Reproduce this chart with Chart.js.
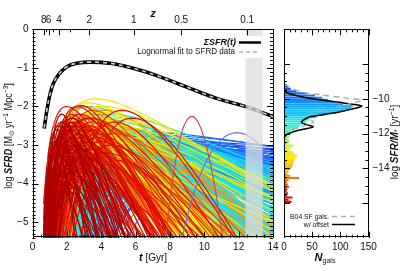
<!DOCTYPE html>
<html>
<head>
<meta charset="utf-8">
<script src="https://cdn.jsdelivr.net/npm/chart.js@4.4.1/dist/chart.umd.min.js"></script>
<style>
html, body { margin: 0; padding: 0; background: #fff; }
#wrap { position: relative; width: 401px; height: 271px; }
#wrap canvas { position: absolute; left: 0; top: 0; }
</style>
</head>
<body>
<div id="wrap">
  <canvas id="sfrd" width="401" height="271"></canvas>
  <canvas id="ssfr" width="401" height="271"></canvas>
</div>
<script>
/*
    Left: star formation histories (lognormal) of the galaxy sample and their sum.
    Right: distribution of specific SFR at z~0.1, colour coded the same way.
*/

// summed SFRD
const sfrdAge = [0.68, 0.84, 1.03, 1.22, 1.51, 2.0, 2.58, 3.35, 4.52, 5.87, 7.23, 8.59, 9.75, 10.72, 12.46, 14.0];
const sfrdLog = [-2.57, -2.09, -1.66, -1.40, -1.18, -0.97, -0.88, -0.85, -0.88, -1.01, -1.20, -1.43, -1.63, -1.79, -2.01, -2.26];
const fitLog  = [-2.55, -2.08, -1.66, -1.40, -1.18, -0.97, -0.88, -0.85, -0.88, -1.01, -1.20, -1.43, -1.63, -1.79, -2.01, -2.26];

// top axis: redshift labels and the cosmic age (Gyr) where they sit
const zLabels = ['8', '6', '4', '2', '1', '0.5', '0.1'];
const zAges = [0.65, 0.94, 1.55, 3.3, 5.9, 8.65, 12.5];
const ageTicks = [0, 2, 4, 6, 8, 10, 12, 14];
const sfrdTicks = [-5, -4, -3, -2, -1, 0];
const bandAges = [12.4, 13.4];

// individual histories: [peak age Gyr, log peak SFRD, curvature in (ln t)^2]
const redDeep = [
    [1.4, -2.6, 4.0], [1.6, -2.8, 3.5], [1.8, -2.4, 4.5], [2.0, -2.9, 3.0], [1.5, -3.2, 3.0],
    [2.2, -2.6, 3.8], [1.7, -2.2, 5.0], [2.4, -3.0, 3.2], [1.9, -3.4, 2.8], [2.6, -2.7, 4.0],
    [1.3, -3.0, 5.0], [2.1, -3.6, 2.5], [2.8, -3.1, 3.5], [1.6, -3.8, 2.2], [2.3, -2.3, 4.2],
    [3.0, -3.3, 3.0], [2.0, -4.0, 2.0], [1.8, -2.7, 3.2], [2.5, -2.5, 5.0], [3.2, -2.9, 4.5],
    [1.5, -2.5, 5.5], [1.8, -3.0, 4.5], [2.0, -2.6, 5.2], [1.6, -3.3, 4.0], [2.2, -3.1, 4.4],
    [1.4, -3.5, 3.6], [1.9, -3.7, 3.2], [2.4, -3.4, 4.2], [1.7, -4.0, 2.8], [2.6, -3.0, 5.5],
    [2.1, -4.2, 2.6], [1.3, -2.9, 6.0], [2.9, -3.6, 4.8], [2.3, -2.8, 6.0],
    [1.5, -2.9, 4.6], [1.7, -3.5, 3.8], [2.0, -3.3, 4.8], [2.2, -2.4, 6.2], [1.4, -3.9, 2.6],
    [2.7, -3.3, 5.8], [1.9, -2.5, 5.8], [2.5, -3.8, 3.6]
];
const red = [
    [2.0, -2.0, 2.0], [2.3, -2.3, 2.4], [2.6, -2.5, 2.2], [1.9, -2.6, 2.6], [2.8, -2.2, 2.8],
    [3.2, -2.6, 2.5], [2.4, -2.8, 2.0], [3.5, -2.4, 3.0], [2.1, -3.0, 2.2], [2.9, -2.9, 2.3],
    [3.8, -2.7, 3.2], [2.5, -3.3, 1.8], [3.3, -3.1, 2.6], [4.0, -2.9, 3.6], [2.7, -2.4, 3.4],
    [2.8, -1.97, 3.0], [3.6, -3.4, 2.0], [4.3, -3.2, 3.0], [2.2, -3.5, 2.0], [4.6, -3.0, 4.0],
    [3.1, -3.7, 1.8], [5.0, -3.4, 3.5], [2.6, -2.0, 2.6], [3.4, -2.3, 2.2], [1.7, -2.4, 3.0],
    [5.2, -2.1, 5.0], [5.8, -2.3, 6.0], [4.8, -2.4, 4.5],
    [2.5, -2.6, 3.0], [2.8, -2.8, 3.2], [2.2, -2.5, 3.6], [3.0, -3.0, 3.4], [2.4, -3.1, 2.8],
    [3.3, -2.5, 4.0], [2.6, -3.3, 2.6], [2.0, -2.8, 3.8], [3.5, -3.1, 3.8], [2.9, -3.5, 2.4],
    [2.3, -2.2, 4.0], [3.7, -2.8, 4.4], [2.7, -3.7, 2.2], [1.9, -3.1, 3.4], [3.1, -2.3, 3.6],
    [2.1, -3.8, 2.4], [3.4, -3.6, 3.0], [2.5, -4.1, 2.0],
    [2.7, -2.7, 4.2], [3.2, -3.3, 3.6], [2.4, -2.4, 4.6], [3.9, -3.2, 4.2], [2.1, -2.7, 4.4],
    [3.6, -2.6, 5.0], [2.8, -3.9, 2.6], [4.2, -3.5, 3.4]
];
const redOrange = [
    [2.4, -2.4, 2.0], [2.9, -2.6, 1.8], [3.3, -2.3, 2.2], [2.2, -2.8, 2.4], [3.7, -2.8, 2.0],
    [2.7, -3.1, 1.6], [4.1, -2.5, 2.6], [3.0, -3.4, 1.5], [3.5, -2.1, 2.8], [4.4, -3.0, 2.4],
    [2.6, -2.2, 3.0], [3.9, -3.3, 1.7], [4.8, -2.7, 3.0], [2.0, -3.2, 2.2],
    [3.4, -2.6, 4.2], [3.7, -2.8, 4.6], [3.1, -2.7, 4.0], [4.0, -2.9, 5.0], [2.9, -2.5, 3.8],
    [3.5, -3.1, 3.6], [3.9, -2.4, 5.4], [3.2, -3.3, 3.2], [4.2, -3.2, 5.2], [2.7, -3.0, 3.4]
];
const orange = [
    [2.8, -2.3, 1.6], [3.2, -2.5, 1.5], [3.6, -2.2, 1.8], [2.5, -2.7, 1.7], [4.0, -2.6, 1.6],
    [3.4, -2.9, 1.3], [4.5, -2.4, 2.2], [2.9, -3.1, 1.4], [3.8, -3.2, 1.5], [5.0, -2.8, 2.0],
    [3.1, -2.0, 2.0], [4.2, -2.1, 2.4], [2.3, -2.5, 2.0], [5.4, -3.0, 2.6],
    [3.5, -2.4, 3.5], [3.2, -2.6, 3.3], [3.8, -2.7, 3.8], [3.0, -2.3, 3.6], [3.6, -2.9, 3.2],
    [4.0, -3.0, 4.0], [2.8, -2.8, 3.0], [3.3, -3.2, 2.8], [4.3, -2.6, 4.6], [2.6, -2.5, 3.4],
    [3.9, -3.4, 3.0], [3.1, -2.0, 3.8]
];
const orangeLow = [
    [3.5, -3.2, 3.0], [3.2, -3.0, 3.2], [3.8, -3.4, 2.8], [4.0, -3.0, 4.0], [3.0, -3.3, 2.6],
    [4.3, -3.5, 3.6], [3.6, -2.8, 3.8], [3.3, -3.6, 2.2], [4.5, -3.2, 5.0], [2.9, -2.9, 3.4]
];
const gold = [
    [3.4, -2.2, 1.7], [2.9, -2.5, 1.6], [4.1, -2.4, 1.9], [3.6, -2.8, 1.4],
    [4.8, -2.6, 2.2], [2.5, -2.9, 1.8], [3.1, -3.0, 1.4], [4.4, -3.1, 1.6],
    [3.9, -2.6, 3.8], [4.2, -2.8, 4.0], [3.6, -2.7, 3.5], [4.5, -3.0, 4.4], [3.3, -2.6, 3.2],
    [4.0, -3.2, 3.4], [3.7, -3.4, 2.8], [4.7, -2.7, 5.0], [3.4, -2.3, 3.8], [4.3, -2.4, 4.6]
];
const yellow = [
    [3.7, -1.8, 1.3], [3.2, -1.9, 1.4], [4.2, -2.0, 1.5], [2.8, -2.2, 1.5], [3.5, -2.4, 1.2],
    [4.6, -2.3, 1.4], [3.0, -2.6, 1.1], [3.9, -2.7, 1.0], [5.0, -2.5, 1.6], [2.6, -2.8, 1.3],
    [4.4, -2.9, 1.1], [3.3, -3.1, 0.9], [5.5, -2.8, 1.8], [4.0, -2.15, 1.2],
    [3.8, -2.3, 3.0], [3.5, -2.5, 2.9], [4.2, -2.6, 3.4], [3.2, -2.4, 2.8], [4.0, -2.9, 3.0],
    [3.6, -3.0, 2.6], [4.5, -2.8, 3.8], [3.0, -2.7, 2.6], [3.4, -3.3, 2.2], [4.8, -3.1, 4.0],
    [2.9, -2.2, 3.0], [3.9, -2.0, 3.5]
];
const yellowLow = [
    [4.0, -3.1, 2.6], [3.6, -3.0, 2.4], [4.4, -3.3, 2.8], [3.8, -3.5, 2.0], [4.8, -3.4, 3.4],
    [3.4, -2.8, 2.8], [4.2, -3.7, 2.0], [5.0, -3.0, 4.4], [3.9, -2.9, 3.2], [4.6, -3.6, 2.5],
    [3.2, -3.2, 2.2], [5.2, -3.5, 4.0]
];
const lime = [
    [3.4, -2.3, 1.1], [4.0, -2.5, 1.0], [4.6, -2.6, 1.1], [3.0, -2.7, 1.0], [3.7, -2.9, 0.9],
    [5.1, -2.7, 1.3], [4.3, -3.1, 0.9], [3.2, -3.2, 0.8], [5.6, -3.0, 1.4], [2.8, -2.5, 1.2],
    [4.0, -2.5, 3.0], [4.3, -2.8, 3.0], [3.7, -2.6, 2.8], [4.6, -3.0, 3.4], [3.5, -2.9, 2.5],
    [4.1, -3.2, 2.6], [5.0, -2.9, 3.8], [3.3, -2.7, 2.6], [4.4, -3.4, 2.4], [3.9, -2.3, 3.2],
    [4.4, -2.7, 3.2], [4.8, -2.8, 3.4], [4.1, -2.9, 2.8], [5.2, -3.0, 3.8], [3.8, -2.8, 2.6],
    [4.6, -3.2, 2.7]
];
const green = [
    [3.6, -2.4, 0.9], [4.2, -2.6, 0.9], [4.8, -2.8, 1.0], [3.3, -2.8, 0.8], [5.3, -2.9, 1.2],
    [4.0, -3.1, 0.8], [5.8, -3.1, 1.4], [3.8, -2.2, 1.0], [4.5, -3.3, 0.8], [6.0, -2.7, 1.6],
    [4.5, -2.7, 2.0], [4.0, -2.6, 2.3],
    [4.5, -2.7, 2.6], [4.2, -2.6, 2.4], [5.0, -2.9, 2.8], [3.9, -2.8, 2.2], [4.7, -3.1, 2.3],
    [5.4, -3.0, 3.2], [3.6, -2.9, 2.0], [4.4, -3.3, 2.0], [5.2, -3.4, 2.5], [4.0, -3.5, 1.8],
    [3.4, -3.2, 1.8], [5.8, -3.2, 3.6], [4.9, -2.6, 3.0], [3.8, -2.5, 2.6],
    [5.5, -3.2, 4.2], [4.0, -3.4, 2.2], [4.9, -3.5, 2.8], [3.6, -3.1, 2.3], [5.0, -2.6, 3.8],
    [4.3, -2.5, 3.5]
];
const greenLow = [
    [4.5, -3.0, 2.4], [5.0, -3.2, 2.6], [4.2, -2.9, 2.8], [5.5, -3.4, 3.0], [4.8, -3.6, 2.0],
    [4.0, -3.2, 2.2], [5.2, -2.8, 3.6], [6.0, -3.6, 3.4], [4.4, -3.4, 2.0], [5.6, -3.1, 3.8],
    [3.8, -3.0, 2.4], [4.7, -3.8, 1.7], [5.3, -3.9, 2.2], [6.2, -3.3, 4.2], [4.1, -3.6, 1.9],
    [5.9, -4.0, 2.8], [4.9, -2.7, 3.4], [3.6, -3.3, 2.0]
];
const cyan = [
    [3.2, -2.0, 1.0], [3.8, -2.3, 0.8], [4.4, -2.5, 0.9], [5.0, -2.7, 1.0], [3.5, -2.7, 0.7],
    [5.5, -2.8, 1.2], [4.1, -2.9, 0.7], [6.0, -3.0, 1.3], [4.7, -3.1, 0.8], [5.2, -3.3, 0.9],
    [6.5, -3.2, 1.5], [3.9, -3.4, 0.6], [5.8, -2.6, 1.6], [4.5, -2.2, 1.1], [5.0, -2.9, 2.2],
    [6.0, -3.1, 2.2], [4.5, -3.0, 1.9],
    [5.0, -2.8, 1.9], [5.5, -2.9, 2.0], [4.6, -2.7, 1.8], [6.0, -3.0, 2.3], [5.2, -3.1, 1.6],
    [4.3, -2.9, 1.5], [6.5, -3.2, 2.6], [5.8, -3.3, 1.8], [4.8, -3.3, 1.4], [7.0, -3.4, 2.8],
    [5.4, -3.5, 1.5], [4.0, -3.1, 1.3], [6.2, -3.6, 2.0], [4.5, -3.6, 1.2], [5.0, -2.5, 2.2],
    [6.8, -2.9, 3.0], [3.8, -2.8, 1.6], [5.6, -3.8, 1.6],
    [4.8, -2.8, 2.4], [5.2, -2.9, 2.6], [5.6, -3.0, 2.8], [6.0, -3.2, 2.7], [4.4, -2.9, 2.1],
    [5.0, -3.2, 2.2], [6.4, -3.3, 3.2], [4.6, -3.1, 1.9], [5.4, -3.4, 2.1], [5.8, -2.7, 3.4],
    [4.2, -3.0, 1.8], [6.8, -3.2, 3.8], [5.1, -3.6, 1.8], [4.9, -2.6, 2.8], [6.2, -3.5, 2.5],
    [5.3, -2.8, 3.0], [4.0, -3.3, 1.6], [5.7, -3.7, 2.0], [7.2, -3.5, 4.0], [4.5, -3.5, 1.5]
];
const cyanLow = [
    [5.0, -3.0, 2.0], [5.5, -3.1, 1.9], [4.5, -3.0, 1.7], [6.0, -3.3, 2.2], [5.2, -3.2, 2.4],
    [4.8, -3.4, 1.8], [5.8, -3.5, 2.0], [6.5, -3.6, 2.6], [4.2, -3.3, 1.5], [5.4, -3.7, 1.6],
    [7.0, -3.8, 3.0], [4.6, -2.9, 2.4], [5.6, -3.9, 1.5], [6.2, -3.0, 3.0], [5.0, -3.6, 2.2],
    [6.8, -3.4, 3.6], [4.4, -3.6, 1.4], [7.5, -4.0, 3.2], [5.3, -3.3, 2.8], [6.0, -3.7, 2.4],
    [4.9, -3.1, 2.6], [6.6, -3.9, 2.8], [5.7, -2.9, 3.2], [4.3, -3.4, 1.9], [7.2, -3.2, 4.2],
    [5.1, -3.8, 1.9], [6.3, -4.1, 2.0], [4.7, -3.7, 1.6], [8.0, -3.9, 4.5], [5.9, -3.3, 2.6]
];
const sky = [
    [4.5, -2.6, 0.8], [5.0, -2.8, 0.7], [5.5, -2.7, 0.9], [6.0, -2.9, 0.8], [4.8, -3.0, 0.6],
    [6.5, -3.0, 1.0], [5.3, -3.2, 0.7], [7.0, -3.1, 1.1], [5.8, -3.3, 0.8], [6.3, -3.5, 0.9],
    [7.5, -3.3, 1.3], [4.2, -2.9, 0.7], [6.8, -2.8, 1.2], [5.1, -3.5, 0.6], [7.2, -3.6, 1.2],
    [8.0, -3.4, 1.6],
    [5.5, -2.8, 1.4], [6.0, -2.9, 1.5], [5.0, -2.7, 1.3], [6.5, -3.0, 1.6], [4.8, -3.0, 1.0],
    [7.0, -3.1, 1.8], [5.8, -3.2, 1.2], [6.2, -2.75, 1.7], [5.3, -3.3, 1.0], [7.5, -3.2, 2.0],
    [4.5, -2.9, 1.1], [6.8, -3.4, 1.5], [5.6, -3.5, 1.1], [8.0, -3.3, 2.4], [6.0, -3.6, 1.3],
    [7.2, -2.9, 2.2], [5.0, -3.1, 0.9], [6.6, -3.1, 1.9], [8.5, -3.5, 2.5], [4.2, -2.8, 0.9],
    [6.5, -3.0, 2.0], [7.0, -3.2, 2.2], [6.0, -3.1, 1.8], [7.5, -3.3, 2.6], [5.5, -3.2, 1.5],
    [8.0, -3.5, 2.8], [6.8, -3.6, 2.0], [7.8, -3.0, 3.0], [6.2, -3.4, 1.7], [8.5, -3.2, 3.4],
    [5.8, -3.6, 1.4], [9.0, -3.6, 3.2]
];
const skyLow = [
    [6.5, -3.2, 1.4], [7.0, -3.4, 1.3], [7.5, -3.5, 1.6], [6.0, -3.3, 1.2], [8.0, -3.6, 1.8],
    [8.5, -3.7, 2.2], [6.8, -3.6, 1.2], [5.5, -3.1, 1.2], [9.0, -3.8, 2.6], [7.2, -3.1, 1.8],
    [6.2, -3.5, 1.0], [7.8, -3.3, 2.2], [9.5, -3.6, 3.0], [5.8, -3.4, 1.0], [8.2, -3.9, 1.8],
    [10.0, -3.9, 3.2], [7.0, -3.8, 1.1], [6.4, -3.0, 1.8], [8.8, -3.4, 2.8], [6.6, -3.7, 1.4],
    [7.6, -4.0, 1.6], [5.2, -3.3, 1.1], [9.2, -3.5, 3.4], [6.9, -3.2, 2.0]
];
const blue = [
    [5.5, -2.7, 0.5], [6.2, -2.8, 0.5], [7.0, -2.9, 0.6], [6.5, -3.0, 0.4], [7.8, -3.0, 0.7],
    [5.8, -3.1, 0.45], [8.5, -3.1, 0.8], [7.2, -3.2, 0.5], [6.0, -3.3, 0.4], [9.0, -3.2, 1.0],
    [8.0, -3.4, 0.6], [6.8, -3.5, 0.5], [9.5, -3.5, 1.0], [7.5, -3.7, 0.6], [10.0, -3.7, 1.2],
    [8.8, -3.9, 0.9], [6.2, -2.65, 0.6], [7.4, -2.75, 0.7],
    [7.0, -3.3, 2.5], [8.0, -3.2, 3.0], [6.5, -3.5, 2.2], [9.0, -3.4, 3.0],
    [6.0, -2.8, 0.7], [6.5, -2.9, 0.8], [7.0, -3.0, 0.9], [7.5, -2.85, 1.0], [8.0, -3.1, 1.1],
    [5.5, -2.9, 0.6], [6.8, -3.2, 0.8], [7.8, -3.3, 1.2], [8.5, -3.0, 1.3], [9.0, -3.3, 1.5],
    [6.2, -3.4, 0.6], [7.2, -3.5, 0.9], [9.5, -3.1, 1.8], [10.0, -3.3, 2.0], [8.2, -3.6, 1.0],
    [5.8, -3.0, 0.55], [11.0, -3.4, 2.5], [6.6, -3.6, 0.7], [9.2, -3.8, 1.4], [7.6, -3.9, 0.9],
    [7.0, -3.0, 1.3], [7.5, -3.1, 1.4], [8.0, -3.2, 1.5], [8.5, -3.3, 1.7], [9.0, -3.1, 2.0],
    [6.5, -3.2, 1.1], [9.5, -3.4, 2.2], [10.0, -3.2, 2.8], [7.2, -3.4, 1.2], [8.2, -3.5, 1.5],
    [10.5, -3.5, 3.0], [6.8, -2.9, 1.2]
];
const blueLow = [
    [8.0, -3.3, 1.0], [9.0, -3.4, 1.2], [7.0, -3.3, 0.8], [10.0, -3.5, 1.6], [8.5, -3.6, 1.1],
    [7.5, -3.6, 0.8], [11.0, -3.7, 2.2], [9.5, -3.8, 1.4], [6.5, -3.4, 0.7], [8.0, -3.9, 0.9],
    [12.0, -3.6, 3.0], [7.2, -3.8, 0.7], [10.5, -4.0, 1.8], [9.0, -3.1, 1.6], [8.6, -3.0, 1.4],
    [11.5, -3.3, 2.6]
];
const blueDeep = [
    [8.0, -2.9, 0.4], [9.0, -3.0, 0.5], [10.0, -3.1, 0.6], [7.5, -3.2, 0.35], [11.0, -3.3, 0.7],
    [9.5, -3.4, 0.5], [12.0, -3.5, 0.8], [8.5, -3.6, 0.45], [10.5, -3.8, 0.7],
    [7.5, -3.6, 2.0], [6.0, -3.8, 2.5], [8.5, -3.7, 2.6], [10.0, -3.5, 3.5]
];
const lateBurst = [[11.9, -2.68, 28]];
const shortBurst = [[9.27, -2.25, 100]];

// sSFR histogram (bins of 0.125 dex going down from -9.125)
const binTop = -9.125;
const binWidth = 0.125;
const ssfrCounts = [
    4, 8, 12, 22, 40, 55, 68, 78, 88, 105, 122, 118, 108, 92, 72, 58, 45, 40, 34, 28,
    24, 19, 14, 11, 9, 7, 10, 8, 17, 12, 9, 15, 19, 23, 20, 18, 17, 16, 14, 11,
    8, 6, 11, 27, 8, 5, 7, 9, 6, 5, 7, 6, 15, 8, 13
];
// model distribution with offset (black) and B04 star-forming galaxies (grey dashed)
const offsetCounts = [0.3, 0.3, 1.5, 4.7, 16.6, 40, 70, 105, 138, 117, 94, 70, 46, 34, 31, 40, 52, 37, 19.6, 4.7, 0.3, 0.3];
const offsetSsfr = [-8.0, -9.3, -9.5, -9.65, -9.77, -9.94, -10.09, -10.24, -10.41, -10.62, -10.79, -10.91, -11.04, -11.23, -11.36, -11.49, -11.61, -11.74, -11.87, -12.06, -12.3, -16.0];
const b04Counts = [2, 28, 64, 111, 138, 111, 82, 52, 43, 46, 52, 37, 16.5, 4.7, 1];
const b04Ssfr = [-9.2, -9.58, -9.77, -9.96, -10.09, -10.34, -10.6, -10.79, -10.98, -11.17, -11.36, -11.55, -11.74, -11.9, -12.0];
const ssfrTicks = [-14, -12, -10];
const countTicks = [0, 50, 100, 150];

const FONT = '"Liberation Sans", Arial, sans-serif';
Chart.defaults.font.family = FONT;
Chart.defaults.font.size = 10;
Chart.defaults.color = '#111';

// colour table used for both panels (keyed on log sSFR)
const cmapStops = [
    [-9.2, [20, 70, 240]], [-10.0, [25, 130, 250]], [-10.6, [20, 180, 245]], [-11.2, [40, 225, 240]],
    [-11.8, [90, 240, 190]], [-12.3, [150, 240, 110]], [-12.8, [205, 240, 50]], [-13.3, [250, 230, 0]],
    [-13.8, [250, 195, 0]], [-14.3, [250, 150, 0]], [-14.8, [245, 90, 0]], [-15.3, [235, 40, 0]],
    [-15.9, [215, 0, 0]]
];
function cmap(v) {
    if (v >= cmapStops[0][0]) return 'rgb(' + cmapStops[0][1].join(',') + ')';
    for (let i = 1; i < cmapStops.length; i++) {
        const a = cmapStops[i - 1], b = cmapStops[i];
        if (v >= b[0]) {
            const f = (a[0] - v) / (a[0] - b[0]);
            const c = a[1].map((x, k) => Math.round(x + (b[1][k] - x) * f));
            return 'rgb(' + c.join(',') + ')';
        }
    }
    return 'rgb(' + cmapStops[cmapStops.length - 1][1].join(',') + ')';
}

// first in list is drawn on top
const families = [
    [shortBurst, 'rgb(215,70,70)'],
    [lateBurst, 'rgb(100,110,230)'],
    [redDeep, 'rgb(175,0,0)'],
    [red, 'rgb(225,15,0)'],
    [redOrange, 'rgb(242,75,0)'],
    [yellow, 'rgb(245,232,0)'],
    [orange, 'rgb(250,145,0)'],
    [cyan, 'rgb(30,220,240)'],
    [gold, 'rgb(250,195,0)'],
    [lime, 'rgb(185,240,60)'],
    [green, 'rgb(90,238,150)'],
    [orangeLow, 'rgb(250,130,0)'],
    [yellowLow, 'rgb(240,225,20)'],
    [greenLow, 'rgb(120,240,130)'],
    [cyanLow, 'rgb(60,225,235)'],
    [sky, 'rgb(20,165,245)'],
    [skyLow, 'rgb(30,185,240)'],
    [blue, 'rgb(25,105,245)'],
    [blueLow, 'rgb(30,120,240)'],
    [blueDeep, 'rgb(35,65,230)']
];

let ageGrid = [];
for (let i = 0; i <= 87; i++) {
    ageGrid.push(i < 27 ? 0.65 + 0.05 * i : 2.0 + 0.2 * (i - 27));
}
ageGrid = ageGrid.filter(t => t <= 14.001);

// one lognormal history, clipped a little below the plot floor
function lognormalTrack(c) {
    return ageGrid.map(t => {
        let y = c[1] - c[2] * Math.pow(Math.log(t / c[0]), 2);
        return { x: t, y: Math.max(y, -6) };
    });
}

function buildSfrdDatasets() {
    let sets = [
        {
            data: sfrdAge.map((t, i) => ({ x: t, y: fitLog[i] })),
            borderColor: '#cfcfcf', borderWidth: 1.6, borderDash: [4, 4], tension: 0.4
        },
        {
            data: sfrdAge.map((t, i) => ({ x: t, y: sfrdLog[i] })),
            borderColor: '#000', borderWidth: 3.6, tension: 0.4
        }
    ];
    for (const [list, color] of families) {
        for (const c of list) {
            sets.push({ data: lognormalTrack(c), borderColor: color, borderWidth: 1.15 });
        }
    }
    return sets;
}

function minus(v) {
    return v < 0 ? '\u2212' + Math.abs(v) : String(v);
}

function range(a, b, step) {
    let out = [];
    for (let v = a; v <= b + 1e-9; v += step) out.push(+v.toFixed(3));
    return out;
}

// inward IDL style ticks on all four sides
function tickSet(ctx, area, scale, values, len, edge) {
    ctx.beginPath();
    for (const v of values) {
        const p = Math.round(scale.getPixelForValue(v)) + 0.5;
        if (edge === 'bottom') { ctx.moveTo(p, area.bottom); ctx.lineTo(p, area.bottom - len); }
        if (edge === 'top') { ctx.moveTo(p, area.top); ctx.lineTo(p, area.top + len); }
        if (edge === 'left') { ctx.moveTo(area.left, p); ctx.lineTo(area.left + len, p); }
        if (edge === 'right') { ctx.moveTo(area.right, p); ctx.lineTo(area.right - len, p); }
    }
    ctx.stroke();
}

const framePlugin = {
    id: 'frame',
    afterDraw(chart, args, opts) {
        const ctx = chart.ctx, a = chart.chartArea;
        ctx.save();
        ctx.strokeStyle = '#000';
        ctx.lineWidth = 1;
        ctx.strokeRect(Math.round(a.left) + 0.5, Math.round(a.top) + 0.5,
            Math.round(a.right - a.left) - 1, Math.round(a.bottom - a.top) - 1);
        for (const t of opts.ticks) {
            tickSet(ctx, a, chart.scales[t.scale], t.values, t.len, t.edge);
        }
        ctx.restore();
    }
};

// mixed-font text; sx squeezes it horizontally like the narrow IDL font
function drawRuns(ctx, runs, x, y, align, sx) {
    sx = sx || 1;
    let w = 0;
    for (const r of runs) { ctx.font = r.font; w += ctx.measureText(r.text).width; }
    let cx = align === 'center' ? -w / 2 : (align === 'right' ? -w : 0);
    ctx.save();
    ctx.translate(x, y);
    ctx.scale(sx, 1);
    for (const r of runs) {
        ctx.font = r.font;
        ctx.fillText(r.text, cx, r.dy || 0);
        cx += ctx.measureText(r.text).width;
    }
    ctx.restore();
}

const f10 = '10px ' + FONT, f7 = '7px ' + FONT, fbi = 'italic bold 10px ' + FONT;

const sfrdDecor = {
    id: 'sfrdDecor',
    afterDatasetsDraw(chart) {
        const ctx = chart.ctx, a = chart.chartArea, x = chart.scales.x;
        const x0 = x.getPixelForValue(bandAges[0]), x1 = x.getPixelForValue(bandAges[1]);
        ctx.save();
        ctx.fillStyle = 'rgba(222,222,222,0.75)';
        ctx.fillRect(x0, a.top, x1 - x0, a.bottom - a.top);
        ctx.fillStyle = '#fff';
        ctx.fillRect(x0, 36, x1 - x0, 22);
        ctx.restore();
    },
    afterDraw(chart) {
        const ctx = chart.ctx;
        ctx.save();
        ctx.fillStyle = '#111';
        ctx.textBaseline = 'middle';
        // legend
        drawRuns(ctx, [{ text: '\u03A3SFR(t)', font: 'italic bold 9px ' + FONT }], 236, 42.5, 'right');
        drawRuns(ctx, [{ text: 'Lognormal fit to SFRD data', font: '8.5px ' + FONT }], 235, 52, 'right', 0.95);
        ctx.strokeStyle = '#000';
        ctx.lineWidth = 2.5;
        ctx.beginPath(); ctx.moveTo(239, 42.5); ctx.lineTo(261, 42.5); ctx.stroke();
        ctx.strokeStyle = '#b0b0b0';
        ctx.lineWidth = 1.5;
        ctx.setLineDash([4, 3]);
        ctx.beginPath(); ctx.moveTo(239, 52); ctx.lineTo(260, 52); ctx.stroke();
        ctx.setLineDash([]);
        // axis titles
        drawRuns(ctx, [{ text: 'z', font: 'italic bold 11px ' + FONT }], 153, 13.5, 'center');
        drawRuns(ctx, [{ text: 't', font: 'italic bold 11px ' + FONT }, { text: ' [Gyr]', font: f10 }], 153, 258, 'center');
        ctx.translate(9.5, 136);
        ctx.rotate(-Math.PI / 2);
        drawRuns(ctx, [
            { text: 'log ', font: f10 }, { text: 'SFRD', font: fbi }, { text: ' [M', font: f10 },
            { text: '\u2299', font: f7, dy: 2.5 }, { text: ' yr', font: f10 }, { text: '\u22121', font: f7, dy: -3 },
            { text: ' Mpc', font: f10 }, { text: '\u22123', font: f7, dy: -3 }, { text: ']', font: f10 }
        ], 0, 0, 'center', 0.92);
        ctx.restore();
    }
};

const ssfrDecor = {
    id: 'ssfrDecor',
    afterDraw(chart) {
        const ctx = chart.ctx;
        ctx.save();
        ctx.fillStyle = '#111';
        ctx.textBaseline = 'middle';
        drawRuns(ctx, [{ text: 'B04 SF gals.', font: '8px ' + FONT }], 329, 216.5, 'right', 0.85);
        drawRuns(ctx, [{ text: 'w/ offset', font: '8px ' + FONT }], 329, 224.5, 'right', 0.85);
        ctx.strokeStyle = '#aaa';
        ctx.lineWidth = 1.3;
        ctx.setLineDash([5, 4]);
        ctx.beginPath(); ctx.moveTo(332, 216.5); ctx.lineTo(355, 216.5); ctx.stroke();
        ctx.setLineDash([]);
        ctx.strokeStyle = '#000';
        ctx.lineWidth = 1.5;
        ctx.beginPath(); ctx.moveTo(332, 224.5); ctx.lineTo(355, 224.5); ctx.stroke();
        drawRuns(ctx, [{ text: 'N', font: 'italic bold 11px ' + FONT }, { text: 'gals', font: f7, dy: 3 }], 325, 258, 'center');
        ctx.translate(395, 142);
        ctx.rotate(-Math.PI / 2);
        drawRuns(ctx, [
            { text: 'log ', font: f10 }, { text: 'SFR/M', font: fbi }, { text: '*', font: f7, dy: 2.5 },
            { text: ' [yr', font: f10 }, { text: '\u22121', font: f7, dy: -3 }, { text: ']', font: f10 }
        ], 0, 0, 'center');
        ctx.restore();
    }
};

function plainAxis(extra) {
    return Object.assign({
        type: 'linear',
        grid: { display: false, drawTicks: false, tickLength: 0 },
        border: { display: false },
        ticks: { padding: 4, maxRotation: 0, autoSkip: false, color: '#111', font: { size: 10 }, callback: minus }
    }, extra);
}

// software-backed context: the picture is rasterised at once, not deferred
function context2d(id) {
    return document.getElementById(id).getContext('2d', { willReadFrequently: true });
}

class SfrdPanel {
    update() {
        const ctx = context2d('sfrd');
        window.sfrdChart = new Chart(ctx, {
            type: 'line',
            data: { datasets: buildSfrdDatasets() },
            options: {
                responsive: false,
                animation: false,
                events: [],
                layout: { padding: { left: 0, right: 128, top: 0, bottom: 0 } },
                elements: { point: { radius: 0 }, line: { tension: 0 } },
                plugins: {
                    legend: { display: false },
                    tooltip: { enabled: false },
                    frame: {
                        ticks: [
                            { scale: 'x', values: ageTicks, len: 6, edge: 'bottom' },
                            { scale: 'x', values: range(0, 14, 0.5), len: 3, edge: 'bottom' },
                            { scale: 'x', values: zAges, len: 6, edge: 'top' },
                            { scale: 'x', values: [0.77, 1.19, 2.16], len: 3, edge: 'top' },
                            { scale: 'y', values: sfrdTicks, len: 6, edge: 'left' },
                            { scale: 'y', values: range(-5.4, 0, 0.1), len: 3, edge: 'left' },
                            { scale: 'y', values: sfrdTicks, len: 6, edge: 'right' },
                            { scale: 'y', values: range(-5.4, 0, 0.1), len: 3, edge: 'right' }
                        ]
                    }
                },
                scales: {
                    x: plainAxis({
                        min: 0, max: 14, position: 'bottom',
                        afterBuildTicks: s => { s.ticks = ageTicks.map(v => ({ value: v })); },
                        afterFit: s => { s.height = 33.3; }
                    }),
                    xTop: plainAxis({
                        axis: 'x', min: 0, max: 14, position: 'top',
                        ticks: { padding: 3, maxRotation: 0, autoSkip: false, color: '#111', font: { size: 10 },
                            callback: (v, i) => zLabels[i] },
                        afterBuildTicks: s => { s.ticks = zAges.map(v => ({ value: v })); },
                        afterFit: s => { s.height = 29.3; }
                    }),
                    y: plainAxis({
                        min: -5.4, max: 0, position: 'left',
                        afterBuildTicks: s => { s.ticks = sfrdTicks.map(v => ({ value: v })); },
                        afterFit: s => { s.width = 32.5; }
                    })
                }
            },
            plugins: [framePlugin, sfrdDecor]
        });
        ctx.getImageData(0, 0, 1, 1);
    }
}

class SsfrPanel {
    update() {
        const bins = ssfrCounts.map((n, i) => ({ x: n, y: binTop - binWidth * (i + 0.5) }));
        const ctx = context2d('ssfr');
        window.ssfrChart = new Chart(ctx, {
            type: 'bar',
            data: {
                datasets: [
                    {
                        type: 'line',
                        data: b04Counts.map((n, i) => ({ x: n, y: b04Ssfr[i] })),
                        borderColor: '#aaa', borderWidth: 1.4, borderDash: [6, 4],
                        pointRadius: 0, tension: 0.3
                    },
                    {
                        type: 'line',
                        data: offsetCounts.map((n, i) => ({ x: n, y: offsetSsfr[i] })),
                        borderColor: '#000', borderWidth: 1.5, pointRadius: 0, tension: 0.3
                    },
                    {
                        data: bins,
                        backgroundColor: bins.map(b => cmap(b.y)),
                        borderWidth: 0, barPercentage: 0.95, categoryPercentage: 1
                    }
                ]
            },
            options: {
                indexAxis: 'y',
                responsive: false,
                animation: false,
                events: [],
                layout: { padding: { left: 284, right: 0, top: 29.3, bottom: 0 } },
                plugins: {
                    legend: { display: false },
                    tooltip: { enabled: false },
                    frame: {
                        ticks: [
                            { scale: 'x', values: countTicks, len: 6, edge: 'bottom' },
                            { scale: 'x', values: range(0, 150, 10), len: 3, edge: 'bottom' },
                            { scale: 'x', values: countTicks, len: 6, edge: 'top' },
                            { scale: 'x', values: range(0, 150, 10), len: 3, edge: 'top' },
                            { scale: 'y', values: range(-16, -8, 2), len: 6, edge: 'right' },
                            { scale: 'y', values: range(-16, -8, 0.5), len: 3, edge: 'right' },
                            { scale: 'y', values: range(-16, -8, 2), len: 6, edge: 'left' },
                            { scale: 'y', values: range(-16, -8, 0.5), len: 3, edge: 'left' }
                        ]
                    }
                },
                scales: {
                    x: plainAxis({
                        min: 0, max: 150, position: 'bottom',
                        afterBuildTicks: s => { s.ticks = countTicks.map(v => ({ value: v })); },
                        afterFit: s => { s.height = 33.3; }
                    }),
                    y: plainAxis({
                        min: -16, max: -8, position: 'right',
                        afterBuildTicks: s => { s.ticks = ssfrTicks.map(v => ({ value: v })); },
                        afterFit: s => { s.width = 32.5; }
                    })
                }
            },
            plugins: [framePlugin, ssfrDecor]
        });
        ctx.getImageData(0, 0, 1, 1);
    }
}

new SfrdPanel().update();
new SsfrPanel().update();
</script>
</body>
</html>
